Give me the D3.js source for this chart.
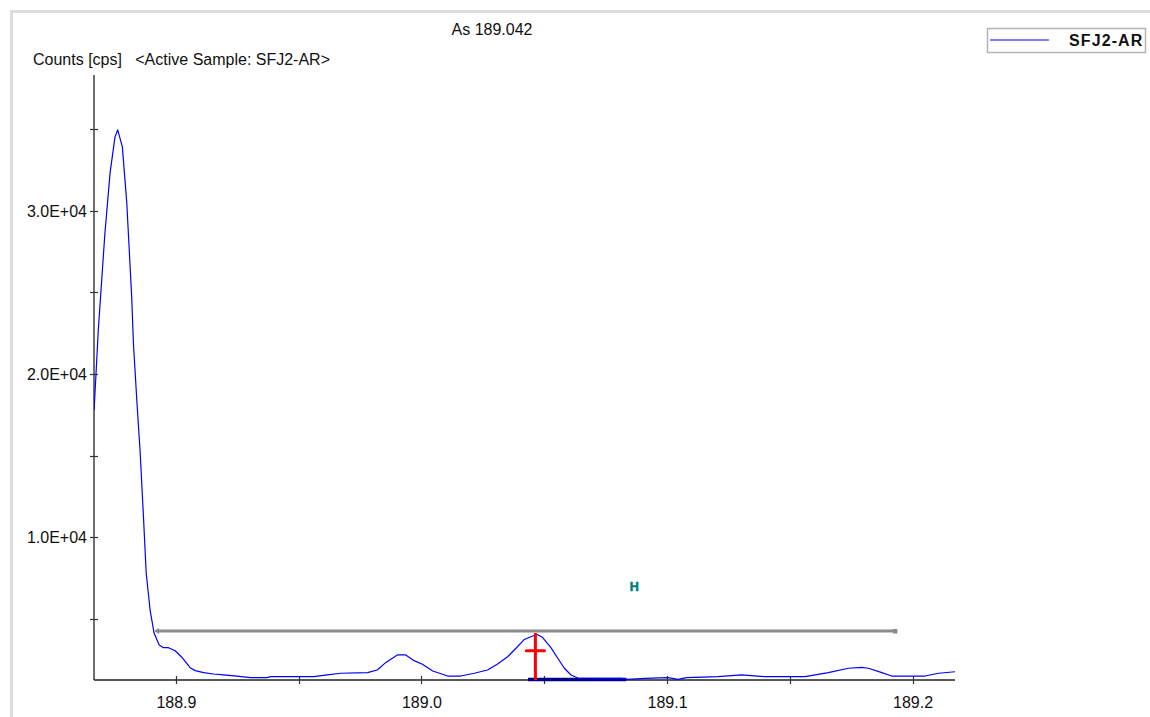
<!DOCTYPE html>
<html>
<head>
<meta charset="utf-8">
<script src="https://cdn.jsdelivr.net/npm/d3@7/dist/d3.min.js"></script>
<style>
  html, body { margin: 0; padding: 0; background: #fff; }
  svg { display: block; }
  text { font-family: "Liberation Sans", Arial, sans-serif; }
</style>
</head>
<body>
<svg id="chart" width="1150" height="717"></svg>
<script>
// ---------------- DATA ----------------
const titleText = "As 189.042";
const yLabelText = "Counts [cps]\u00a0\u00a0\u00a0<Active Sample: SFJ2-AR>";
const seriesName = "SFJ2-AR";

const massValues = [
  188.8667, 188.8684, 188.8711, 188.8732, 188.8752, 188.8763, 188.8782, 188.8800,
  188.8820, 188.8827, 188.8842, 188.8854, 188.8868, 188.8879, 188.8895, 188.8911,
  188.8932, 188.8949, 188.8970, 188.8997, 188.9024, 188.9058, 188.9079, 188.9113,
  188.9153, 188.9194, 188.9249, 188.9303, 188.9371, 188.9385, 188.9562, 188.9616,
  188.9671, 188.9780, 188.9820, 188.9854, 188.9902, 188.9936, 188.9970, 189.0004,
  189.0046, 189.0107, 189.0160, 189.0215, 189.0269, 189.0310, 189.0351, 189.0385,
  189.0419, 189.0453, 189.0471, 189.0491, 189.0528, 189.0555, 189.0582, 189.0609,
  189.0637, 189.0814, 189.0841, 189.0909, 189.1004, 189.1045, 189.1079, 189.1208,
  189.1303, 189.1398, 189.1562, 189.1657, 189.1739, 189.1793, 189.1820, 189.1875,
  189.1915, 189.2051, 189.2106, 189.2174
];
const countValues = [
  17800, 22690, 28630, 32310, 34510, 34940, 33900, 30470,
  24720, 21900, 18100, 15350, 11250, 7820, 5550, 4145,
  3410, 3245, 3245, 3060, 2660, 2020, 1840, 1715,
  1635, 1575, 1510, 1410, 1410, 1470, 1470, 1575,
  1680, 1715, 1880, 2330, 2800, 2800, 2450, 2230,
  1820, 1510, 1510, 1680, 1880, 2250, 2690, 3210,
  3750, 3960, 4050, 3900, 3230, 2600, 1985, 1575,
  1390, 1370, 1310, 1370, 1410, 1310, 1410, 1470,
  1575, 1470, 1470, 1715, 1985, 2045, 1985, 1715,
  1510, 1510, 1680, 1775
];

const xDomain = [188.86665, 189.21727];
const yDomain = [1267, 38300];
const xMajorTicks = [188.9, 189.0, 189.1, 189.2];
const xMinorTicks = [188.95, 189.05, 189.15];
const yMajorTicks = [10000, 20000, 30000];
const yMinorTicks = [5000, 15000, 25000, 35000];
const yTickLabels = ["1.0E+04", "2.0E+04", "3.0E+04"];

// integration / peak markers
const baselineSegment = { x0: 188.8911, x1: 189.1928, y: 4267 };
const peakMarker = { x: 189.0464, yTop: 4145, yCross: 3060, halfWidth: 0.0037 };
const windowBar = { x0: 189.0434, x1: 189.0834 };
const hMarker = { x: 189.0867, y: 7020 };

// ---------------- DRAW ----------------
const svg = d3.select("#chart");
const plot = { left: 94, right: 955, top: 75, bottom: 680 };
const FS = 16;

const x = d3.scaleLinear().domain(xDomain).range([plot.left, plot.right]);
const y = d3.scaleLinear().domain(yDomain).range([plot.bottom, plot.top]);

// panel frame (top and left bevel)
svg.append("rect").attr("x", 10).attr("y", 10).attr("width", 1140).attr("height", 3).attr("fill", "#dcdcdc");
svg.append("rect").attr("x", 10).attr("y", 10).attr("width", 3).attr("height", 707).attr("fill", "#dcdcdc");

// title & y label
svg.append("text").attr("x", 492).attr("y", 35).attr("text-anchor", "middle")
  .attr("font-size", FS).attr("fill", "#111").text(titleText);
svg.append("text").attr("x", 33).attr("y", 65)
  .attr("font-size", FS).attr("fill", "#111").text(yLabelText);

// clip
svg.append("defs").append("clipPath").attr("id", "clip")
  .append("rect").attr("x", plot.left).attr("y", plot.top)
  .attr("width", plot.right - plot.left).attr("height", plot.bottom - plot.top);

// axes
const yAxis = d3.axisLeft(y).tickValues(yMajorTicks.concat(yMinorTicks))
  .tickSize(0).tickFormat(d => { const i = yMajorTicks.indexOf(d); return i >= 0 ? yTickLabels[i] : ""; });
const gy = svg.append("g").attr("transform", `translate(${plot.left},0)`).call(yAxis);
gy.select(".domain").remove();
gy.selectAll("text").attr("font-size", FS).attr("fill", "#111").attr("x", -7).attr("dy", "0.35em")
  .style("font-family", "'Liberation Sans', Arial, sans-serif");
gy.selectAll(".tick line").remove();

const xAxis = d3.axisBottom(x).tickValues(xMajorTicks.concat(xMinorTicks)).tickSize(0)
  .tickFormat(d => xMajorTicks.includes(d) ? d3.format(".1f")(d) : "");
const gx = svg.append("g").attr("transform", `translate(0,${plot.bottom})`).call(xAxis);
gx.select(".domain").remove();
gx.selectAll(".tick line").remove();
gx.selectAll("text").attr("font-size", FS).attr("fill", "#111").attr("y", 16.5).attr("dy", "0.71em")
  .style("font-family", "'Liberation Sans', Arial, sans-serif");

// axis lines
svg.append("line").attr("x1", plot.left).attr("x2", plot.left).attr("y1", plot.top).attr("y2", plot.bottom)
  .attr("stroke", "#222").attr("stroke-width", 1.3);
svg.append("line").attr("x1", plot.left).attr("x2", plot.right).attr("y1", plot.bottom).attr("y2", plot.bottom)
  .attr("stroke", "#222").attr("stroke-width", 1.3);

// tick marks (crossing the axes)
svg.append("g").selectAll("line").data(yMajorTicks.concat(yMinorTicks)).join("line")
  .attr("x1", plot.left - 4).attr("x2", plot.left + 4)
  .attr("y1", d => Math.round(y(d)) + 0.5).attr("y2", d => Math.round(y(d)) + 0.5)
  .attr("stroke", "#333").attr("stroke-width", 1.2);
svg.append("g").selectAll("line").data(xMajorTicks.concat(xMinorTicks)).join("line")
  .attr("y1", plot.bottom - 4).attr("y2", plot.bottom + 4)
  .attr("x1", d => Math.round(x(d)) + 0.5).attr("x2", d => Math.round(x(d)) + 0.5)
  .attr("stroke", "#333").attr("stroke-width", 1.2);

// baseline segment (gray)
const by = y(baselineSegment.y);
svg.append("line").attr("x1", x(baselineSegment.x0) + 3).attr("x2", x(baselineSegment.x1))
  .attr("y1", by).attr("y2", by).attr("stroke", "#8a8a8a").attr("stroke-width", 3);
svg.append("path")
  .attr("d", `M${x(baselineSegment.x0)},${by} l5,-3 l0,6 z`).attr("fill", "#8a8a8a");
svg.append("rect").attr("x", x(baselineSegment.x1) - 2).attr("y", by - 2).attr("width", 4.5).attr("height", 4.5)
  .attr("fill", "#8a8a8a");

// window bar (navy)
svg.append("line").attr("x1", x(windowBar.x0)).attr("x2", x(windowBar.x1))
  .attr("y1", plot.bottom - 0.5).attr("y2", plot.bottom - 0.5)
  .attr("stroke", "#00008b").attr("stroke-width", 3.5);

// spectrum line
const pts = massValues.map((m, i) => [m, countValues[i]]);
const line = d3.line().x(d => x(d[0])).y(d => y(d[1]));
svg.append("path").datum(pts).attr("clip-path", "url(#clip)")
  .attr("d", line).attr("fill", "none").attr("stroke", "#0000ff").attr("stroke-width", 1.2)
  .attr("stroke-linejoin", "round");

// peak marker (red)
const px = x(peakMarker.x);
svg.append("line").attr("x1", px).attr("x2", px).attr("y1", y(peakMarker.yTop)).attr("y2", plot.bottom)
  .attr("stroke", "#ff0000").attr("stroke-width", 3);
svg.append("line").attr("x1", x(peakMarker.x - peakMarker.halfWidth)).attr("x2", x(peakMarker.x + peakMarker.halfWidth))
  .attr("y1", y(peakMarker.yCross)).attr("y2", y(peakMarker.yCross))
  .attr("stroke", "#ff0000").attr("stroke-width", 3).attr("stroke-linecap", "round");

// H marker (teal)
svg.append("text").attr("x", x(hMarker.x)).attr("y", y(hMarker.y) + 4.5).attr("text-anchor", "middle")
  .attr("font-size", 12.5).attr("font-weight", "900").attr("stroke", "#008080").attr("stroke-width", 0.6)
  .attr("fill", "#008080").text("H");

// legend
svg.append("rect").attr("x", 987.5).attr("y", 28.5).attr("width", 158).attr("height", 24)
  .attr("fill", "#fff").attr("stroke", "#b4b4b4").attr("stroke-width", 1.5);
svg.append("line").attr("x1", 990).attr("x2", 1049).attr("y1", 40).attr("y2", 40)
  .attr("stroke", "#0000ff").attr("stroke-width", 1.2);
svg.append("text").attr("x", 1069).attr("y", 46).attr("font-size", FS).attr("font-weight", "bold")
  .attr("letter-spacing", 1.1).attr("fill", "#111").text(seriesName);
</script>
</body>
</html>
